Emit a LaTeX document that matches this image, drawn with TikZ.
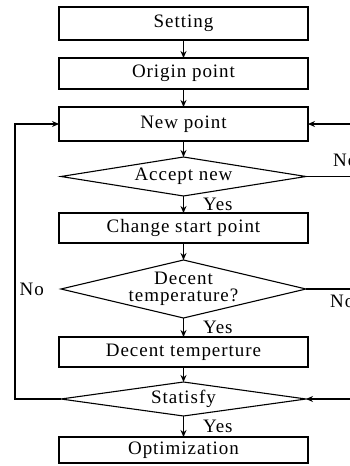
\documentclass[tikz,border=0pt]{standalone}
\usepackage{fontspec}
\setmainfont{Liberation Serif}[LetterSpace=5]
\usepackage{tikz}
\usetikzlibrary{arrows.meta,positioning,shapes.geometric}

\begin{document}
\begin{tikzpicture}[
  x=1pt,y=1pt,
  box/.style={draw,line width=1.1pt,minimum width=249pt,minimum height=31pt,inner sep=0pt,outer sep=0pt,font=\fontsize{19}{21}\selectfont},
  dec/.style={box,shape=diamond,minimum width=245pt,shape aspect=6},
  lbl/.style={inner sep=0pt,font=\fontsize{19}{21}\selectfont},
  arr/.style={-{Stealth[length=7pt,width=6pt]},line width=1.1pt},
  edge/.style={line width=1.1pt}
]
\useasboundingbox (0,0) rectangle (350,-466);
\node[box,minimum height=33pt] (set) at (183.5,-23.5) {Setting};
\node[box,below=18pt of set] (orig) {Origin point};
\node[box,minimum height=34pt,below=18pt of orig] (new) {New point};
\node[dec,minimum height=39pt,below=16pt of new] (acc) {Accept new};
\node[box,minimum height=30pt,below=17pt of acc] (chg) {Change start point};
\node[dec,minimum height=58pt,shape aspect=4.2,inner xsep=-15pt,align=center,font=\fontsize{19}{17}\selectfont,below=17pt of chg] (dtemp) {Decent\\temperature?};
\node[box,minimum height=30pt,below=19pt of dtemp] (dbox) {Decent temperture};
\node[dec,minimum height=34pt,below=15pt of dbox] (sat) {Statisfy};
\node[box,minimum height=26pt,below=21pt of sat] (opt) {Optimization};
% lines running off the right side
\coordinate (newR) at ([xshift=60pt]new.east);
\coordinate (accR) at ([xshift=60pt]acc.east);
\coordinate (dtempR) at ([xshift=60pt]dtemp.east);
\coordinate (satR) at ([xshift=60pt]sat.east);
\draw[arr] (set) -- (orig);
\draw[arr] (orig) -- (new);
\draw[arr] (new) -- (acc);
\draw[arr] (acc) -- node[lbl,anchor=west,xshift=19pt] (yes1) {Yes} (chg);
\draw[arr] (chg) -- (dtemp);
\draw[arr] (dtemp) -- node[lbl,anchor=west,xshift=19pt] (yes2) {Yes} (dbox);
\draw[arr] (dbox) -- (sat);
\draw[arr] (sat) -- node[lbl,anchor=west,xshift=19pt] (yes3) {Yes} (opt);
\draw[edge] (acc.east) -- (accR);
\draw[arr] (newR) -- (new.east);
\draw[edge] (dtemp.east) -- (dtempR);
\draw[arr] (satR) -- (sat.east);
\draw[arr] (sat.west) -- ++(-46,0) |- (new.west);
\node[lbl,anchor=west] (no1) at ([xshift=27pt,yshift=16pt]acc.east) {No};
\node[lbl,anchor=west] (no2) at ([xshift=24pt,yshift=-12pt]dtemp.east) {No};
\node[lbl,anchor=east] (no3) at ([xshift=-17pt]dtemp.west) {No};
\end{tikzpicture}
\end{document}
